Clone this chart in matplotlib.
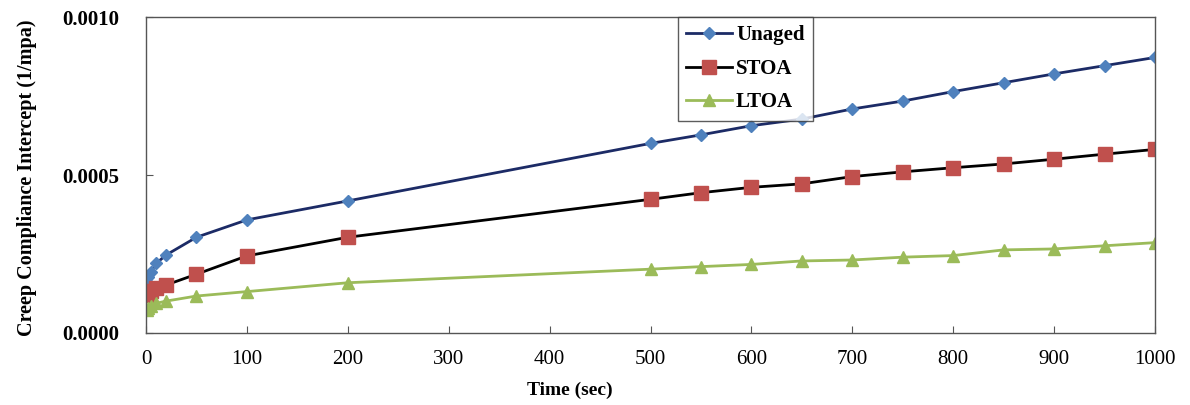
import matplotlib
matplotlib.use("Agg")
import matplotlib.pyplot as plt

time_sec = [1, 2, 5, 10, 20, 50, 100, 200, 500, 550, 600, 650, 700, 750, 800, 850, 900, 950, 1000]
unaged = [0.000162, 0.000178, 0.000194, 0.000220, 0.000247, 0.000303, 0.000358, 0.000418,
          0.000600, 0.000627, 0.000656, 0.000677, 0.000709, 0.000734, 0.000764, 0.000792,
          0.000820, 0.000846, 0.000872]
stoa = [0.000120, 0.000126, 0.000133, 0.000141, 0.000152, 0.000186, 0.000244, 0.000303,
        0.000423, 0.000444, 0.000461, 0.000472, 0.000495, 0.000510, 0.000523, 0.000535,
        0.000550, 0.000566, 0.000581]
ltoa = [0.0000728, 0.000078, 0.000085, 0.000094, 0.000101, 0.000117, 0.000131, 0.000159,
        0.000202, 0.000210, 0.000217, 0.000228, 0.000231, 0.000240, 0.000245, 0.000263,
        0.000266, 0.000276, 0.000286]
x_ticks = [0, 100, 200, 300, 400, 500, 600, 700, 800, 900, 1000]
y_ticks = [0.0, 0.0005, 0.0010]
y_tick_labels = ["0.0000", "0.0005", "0.0010"]

serif = ["Liberation Serif", "DejaVu Serif"]

fig = plt.figure(figsize=(11.9, 4.05), dpi=100)
ax = fig.add_axes([0.1227, 0.1778, 0.8479, 0.7802])

ax.plot(time_sec, unaged, color="#1c2b66", lw=2.0, marker="D", markersize=6.5,
        markerfacecolor="#4F81BD", markeredgecolor="#4F81BD", label="Unaged")
ax.plot(time_sec, stoa, color="#000000", lw=2.0, marker="s", markersize=9.5,
        markerfacecolor="#C0504D", markeredgecolor="#C0504D", label="STOA")
ax.plot(time_sec, ltoa, color="#9BBB59", lw=2.0, marker="^", markersize=8,
        markerfacecolor="#9BBB59", markeredgecolor="#9BBB59", label="LTOA")

ax.set_xlim(0, 1000)
ax.set_ylim(0, 0.0010)
ax.set_xticks(x_ticks)
ax.set_xticklabels([str(t) for t in x_ticks], family=serif, fontsize=15)
ax.set_yticks(y_ticks)
ax.set_yticklabels(y_tick_labels, family=serif, fontsize=15, fontweight="bold")
ax.tick_params(direction="in", length=5, color="#555555")
ax.tick_params(axis="x", pad=12)
ax.tick_params(axis="y", pad=19)
for s in ax.spines.values():
    s.set_color("#555555")
    s.set_linewidth(1.0)

ax.set_ylabel("Creep Compliance Intercept (1/mpa)", family=serif, fontsize=14.5,
              fontweight="bold")
ax.yaxis.set_label_coords(-0.108, 0.49)
ax.set_xlabel("Time (sec)", family=serif, fontsize=14, fontweight="bold", va="center")
ax.xaxis.set_label_coords(0.42, -0.18)

leg = ax.legend(loc="upper left", bbox_to_anchor=(0.527, 1.0), borderaxespad=0,
                prop={"family": serif, "weight": "bold", "size": 15},
                frameon=True, fancybox=False, handlelength=2.2, handletextpad=0.2,
                labelspacing=0.65, borderpad=0.4)
leg.get_frame().set_edgecolor("#333333")
leg.get_frame().set_linewidth(1.0)

fig.savefig("out.png", dpi=100)
